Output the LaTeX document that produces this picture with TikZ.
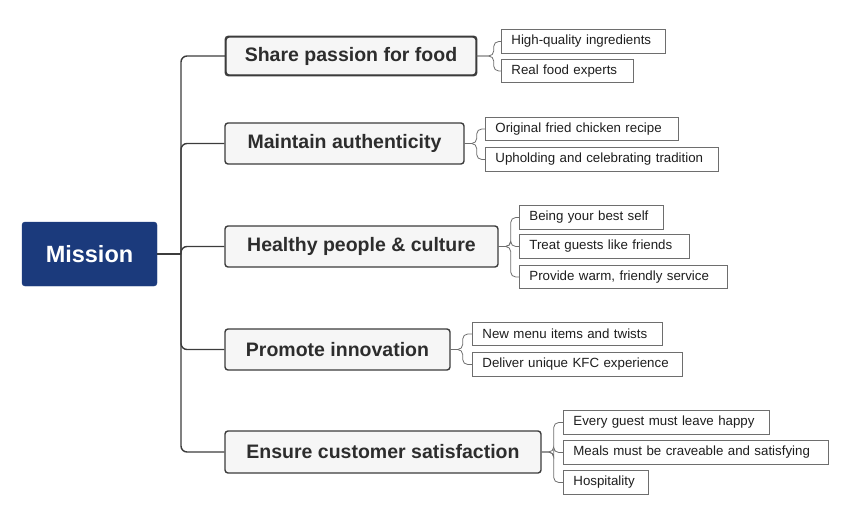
\documentclass[tikz,border=0pt]{standalone}
\usepackage{fontspec}
\setmainfont{Liberation Sans}
\begin{document}
\begin{tikzpicture}[x=1pt,y=-1pt,
  root/.style={fill={rgb,255:red,27;green,58;blue,124},draw={rgb,255:red,27;green,58;blue,124},rounded corners=3pt,text=white,font=\fontsize{23.5}{27}\selectfont\bfseries,inner sep=0},
  topic/.style={draw={rgb,255:red,60;green,60;blue,60},line width=1.4pt,fill={rgb,255:red,246;green,246;blue,246},rounded corners=3pt,text={rgb,255:red,45;green,45;blue,45},font=\fontsize{19.5}{23}\selectfont\bfseries,inner sep=0},
  leaf/.style={draw={rgb,255:red,110;green,110;blue,110},line width=0.8pt,fill=white,font=\fontsize{13.3}{15}\selectfont,inner sep=0,text={rgb,255:red,30;green,30;blue,30}},
  trunk/.style={draw={rgb,255:red,60;green,60;blue,60},line width=1.4pt,rounded corners=6pt},
  twig/.style={draw={rgb,255:red,110;green,110;blue,110},line width=0.8pt,rounded corners=5pt}]
\useasboundingbox (0,0) rectangle (848,524);
\node[root,minimum width=135,minimum height=64] (m) at (89.5,254) {Mission};
\node[topic,minimum width=250,minimum height=38] (t1) at (351,56) {Share passion for food};
\node[topic,minimum width=239,minimum height=41] (t2) at (344.5,143.5) {Maintain authenticity};
\node[topic,minimum width=273,minimum height=41] (t3) at (361.5,246.5) {Healthy people \& culture};
\node[topic,minimum width=225,minimum height=41] (t4) at (337.5,349.5) {Promote innovation};
\node[topic,minimum width=316,minimum height=42] (t5) at (383,452) {Ensure customer satisfaction};
\draw[topic,fill=none] (t1.north west) rectangle (t1.south east);
\coordinate (tr) at (181,254);
\draw[trunk] (m.east) -- (tr);
\foreach \t in {t1,t2,t3,t4,t5} \draw[trunk] (tr) |- (\t.west);
\newcommand\leafx[4]{\node[leaf,anchor=west,minimum width=#3,minimum height=23.5,text width=#3-20,align=left] (#1) at (#2) {#4};}
\leafx{a1}{501,41.5}{164}{High-quality ingredients}
\leafx{a2}{501,71}{132}{Real food experts}
\leafx{b1}{485,129}{193}{Original fried chicken recipe}
\leafx{b2}{485,159.5}{233}{Upholding and celebrating tradition}
\leafx{c1}{519,217.5}{144}{Being your best self}
\leafx{c2}{519,246.5}{170}{Treat guests like friends}
\leafx{c3}{519,277}{208}{Provide warm, friendly service}
\leafx{d1}{472,334}{190}{New menu items and twists}
\leafx{d2}{472,364.5}{210}{Deliver unique KFC experience}
\leafx{e1}{563,422.5}{206}{Every guest must leave happy}
\leafx{e2}{563,452.5}{265}{Meals must be craveable and satisfying}
\leafx{e3}{563,482.5}{85}{Hospitality}
\foreach \t/\l/\d in {t1/a1/17,t1/a2/17,t2/b1/12,t2/b2/12,t3/c1/12,t3/c2/12,t3/c3/12,t4/d1/12,t4/d2/12,t5/e1/12,t5/e2/12,t5/e3/12}
  \draw[twig] (\t.east) -- ++(\d,0) |- (\l.west);
\end{tikzpicture}
\end{document}
